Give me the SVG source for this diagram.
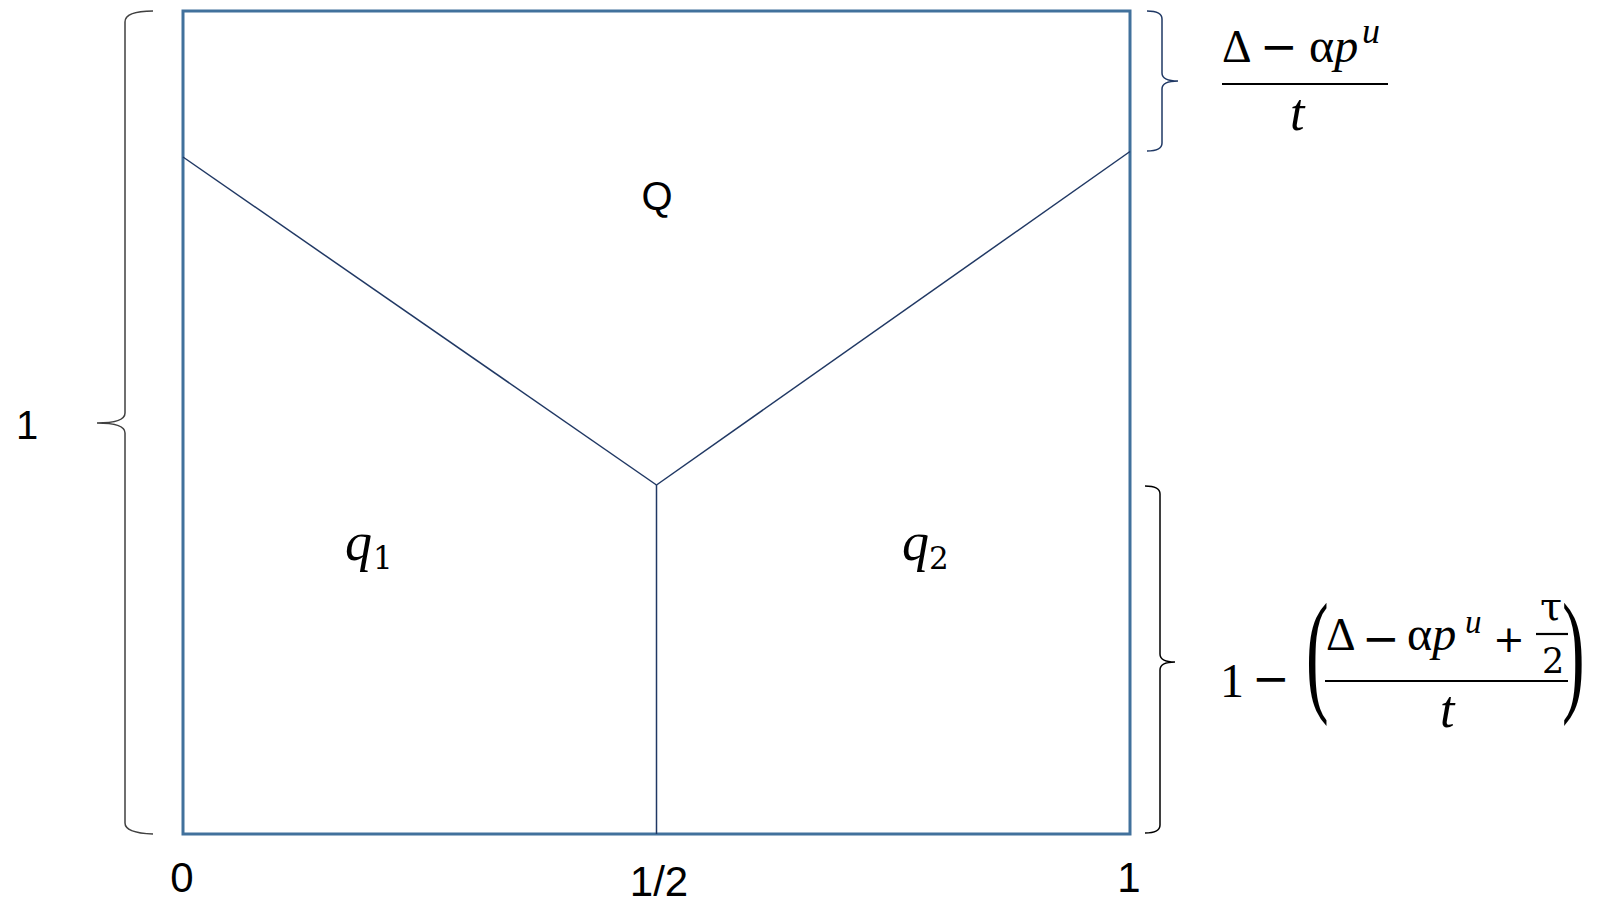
<svg xmlns="http://www.w3.org/2000/svg" width="1619" height="905" viewBox="0 0 1619 905">
<style>
.sans{font-family:"Liberation Sans",Arial,sans-serif;fill:#000}
.m{font-family:"Liberation Serif","Times New Roman",serif;fill:#000}
.d{font-family:"DejaVu Serif",serif;fill:#000}
.op{font-family:"DejaVu Sans",sans-serif;fill:#000}
.it{font-style:italic}
.brace{fill:none;stroke-width:1.5}
.div{stroke:#203864;stroke-width:1.5;fill:none}
.bar{stroke:#000;stroke-width:2.2}
</style>
<rect width="1619" height="905" fill="#fff"/>
<g id="box">
<rect x="183" y="11" width="947" height="823" fill="none" stroke="#41719C" stroke-width="3"/>
</g>
<g id="connectors">
<line class="div" x1="183" y1="157" x2="656.5" y2="485"/>
<line class="div" x1="656.5" y1="485" x2="1130" y2="151.5"/>
<line class="div" x1="656.5" y1="485" x2="656.5" y2="834"/>
</g>
<g id="region-Q"><text class="sans" x="657" y="210" font-size="40" text-anchor="middle">Q</text></g>
<g id="region-q1"><text class="m it" x="345" y="560" font-size="54">q</text><text class="d" x="373" y="569" font-size="31">1</text></g>
<g id="region-q2"><text class="m it" x="902" y="560" font-size="54">q</text><text class="d" x="929" y="569" font-size="31">2</text></g>
<g id="brace-left">
<path class="brace" stroke="#404040" d="M153,11 Q125,11 125,22 L125,413 Q125,423 97,423 Q125,423 125,433 L125,823 Q125,833 153,834"/>
<text class="sans" x="27" y="439" font-size="40" text-anchor="middle">1</text>
</g>
<g id="brace-top-right">
<path class="brace" stroke="#1F3864" d="M1147,11 Q1162,11 1162,19 L1162,73 Q1162,81 1178,81 Q1162,81 1162,89 L1162,143 Q1162,151 1147,151"/>
<text class="m" x="1222" y="62" font-size="46">Δ</text>
<text class="op" x="1260" y="62" font-size="45">−</text>
<text class="m" x="1309" y="62" font-size="48">α<tspan class="it">p</tspan></text>
<text class="m it" x="1362" y="43" font-size="36">u</text>
<line class="bar" x1="1222" y1="84" x2="1388" y2="84"/>
<text class="m it" x="1290" y="130" font-size="52">t</text>
</g>
<g id="brace-bottom-right">
<path class="brace" stroke="#000" d="M1145,486 Q1160,486 1160,494 L1160,654 Q1160,662 1175,662 Q1160,662 1160,670 L1160,825 Q1160,833 1145,833"/>
<text class="m" x="1220" y="697" font-size="48">1</text>
<text class="op" x="1252" y="694" font-size="45">−</text>
<text class="m" transform="matrix(0.5 0 0 1 1306 0)" x="0" y="697" font-size="136">(</text>
<text class="m" x="1326" y="650" font-size="46">Δ</text>
<text class="op" x="1362" y="654" font-size="45">−</text>
<text class="m" x="1407" y="650" font-size="48">α<tspan class="it">p</tspan></text>
<text class="m it" x="1465" y="633" font-size="33">u</text>
<text class="op" x="1493" y="652" font-size="38">+</text>
<text class="d" x="1540" y="620" font-size="40">τ</text>
<line class="bar" x1="1536" y1="634" x2="1568" y2="634"/>
<text class="d" x="1542" y="673" font-size="35">2</text>
<line class="bar" x1="1325" y1="681" x2="1568" y2="681"/>
<text class="m it" x="1440" y="727" font-size="52">t</text>
<text class="m" transform="matrix(0.5 0 0 1 1562 0)" x="0" y="697" font-size="136">)</text>
</g>
<g id="axis-labels">
<text class="sans" x="182" y="892" font-size="42" text-anchor="middle">0</text>
<text class="sans" x="659" y="896" font-size="42" text-anchor="middle">1/2</text>
<text class="sans" x="1129" y="892" font-size="42" text-anchor="middle">1</text>
</g>
</svg>
